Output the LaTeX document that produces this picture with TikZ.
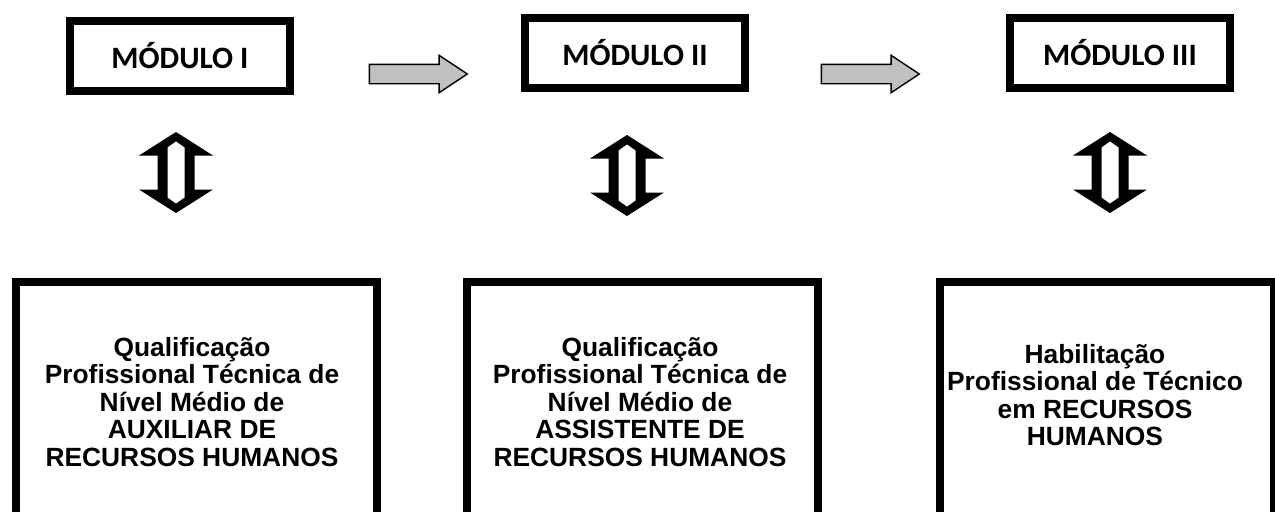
\documentclass[tikz,border=0pt]{standalone}
\usepackage{fontspec}
\setmainfont{Liberation Sans}
\newfontfamily\calfont{Carlito}
\usepackage{tikz}
\usetikzlibrary{shapes.arrows}
\definecolor{cinza}{HTML}{C0C0C0}

\begin{document}
\begin{tikzpicture}[x=0.02cm, y=-0.02cm,
        modulo/.style={draw, line width=0.16cm, minimum width=4.4cm, minimum height=1.4cm, inner sep=0pt,
            font=\calfont\bfseries\fontsize{17.7}{20}\selectfont},
        caixa/.style={draw, line width=0.16cm, anchor=north west, minimum height=8cm, inner sep=0pt},
        texto/.style={anchor=north, align=center, inner sep=0pt, font=\bfseries\fontsize{15}{15.6}\selectfont},
        seta/.style={single arrow, draw, fill=cinza, line width=0.8pt, inner sep=0.18cm,
            minimum height=1.96cm, minimum width=0.72cm, single arrow head extend=0.18cm, single arrow tip angle=67},
        dupla/.pic={
            \fill (0,-40.5) -- (37,-17) -- (18.5,-17) -- (18.5,17) -- (37,17) -- (0,40.5)
                -- (-37,17) -- (-18.5,17) -- (-18.5,-17) -- (-37,-17) -- cycle;
            \fill[white] (0,-31) -- (8.5,-25) -- (8.5,25) -- (0,31) -- (-8.5,25) -- (-8.5,-25) -- cycle;
        }]
            \useasboundingbox (0,0) rectangle (1275,511);
            \clip (0,0) rectangle (1275,511);

            % modulos
            \node[modulo] (M1) at (180,56) {MÓDULO I};
            \node[modulo] (M2) at (635,53) {MÓDULO II};
            \node[modulo] (M3) at (1120,53) {MÓDULO III};

            \node[seta] (S1) at (411,74) {};
            \node[seta] (S2) at (863,74) {};

            \pic at (176,172.5) {dupla};
            \pic at (627,175.5) {dupla};
            \pic at (1110,172.5) {dupla};

            % qualificacoes
            \node[caixa, minimum width=7.22cm] (Q1) at (12,278) {};
            \node[caixa, minimum width=7.02cm] (Q2) at (463,278) {};
            \node[caixa, minimum width=6.68cm] (Q3) at (936,278) {};

            \node[texto] (T1) at (192,337) {Qualificação\\Profissional Técnica de\\Nível Médio de\\AUXILIAR DE\\RECURSOS HUMANOS};
            \node[texto] (T2) at (640,337) {Qualificação\\Profissional Técnica de\\Nível Médio de\\ASSISTENTE DE\\RECURSOS HUMANOS};
            \node[texto] (T3) at (1095,344) {Habilitação\\Profissional de Técnico\\em RECURSOS\\HUMANOS};
        \end{tikzpicture}
\end{document}
